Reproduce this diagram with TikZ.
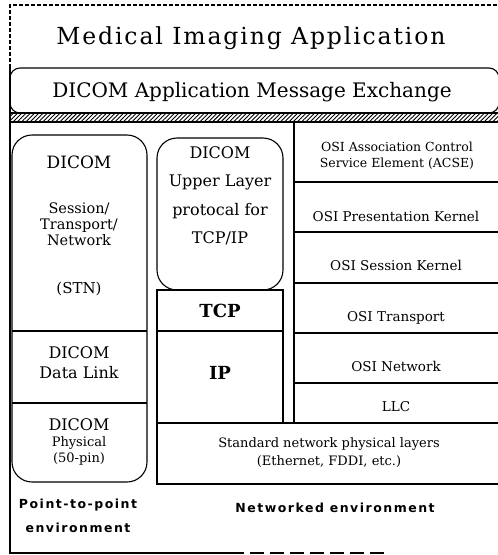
\documentclass[tikz,border=0pt]{standalone}
\usepackage{fontspec}
\setmainfont{DejaVu Serif}
\newfontfamily\labfont{DejaVu Sans}[LetterSpace=12]
\newfontfamily\titlefont{DejaVu Serif}[LetterSpace=8]
\usetikzlibrary{patterns.meta}
\newcommand\fsz[2]{\fontsize{#1}{#2}\selectfont}
\begin{document}
\begin{tikzpicture}[x=1pt,y=-1pt,line width=1.1pt,
  txt/.style={inner sep=0pt,align=center},
  hatch/.style={pattern={Lines[angle=45,distance=3pt,line width=0.9pt]}}]
\useasboundingbox (0,0) rectangle (498,555);
% outer frame
\draw[dash pattern=on 4pt off 2pt] (10,68) -- (10,5) -- (500,5);
\draw (10,68) -- (10,553) -- (230,553);
\draw[dash pattern=on 14pt off 6pt] (230,553) -- (390,553);
% title
\node[txt,font=\titlefont\fsz{23.5}{26}] (title) at (251,38) {Medical Imaging Application};
% message exchange
\draw[rounded corners=10] (10,68) rectangle (499,113);
\node[txt,font=\fsz{20}{24}] (msg) at (252,92) {DICOM Application Message Exchange};
% hatched band
\path[hatch] (10,113) rectangle (498,122);
\draw (10,113) -- (498,113);
\draw (10,122) -- (498,122);
% left column
\draw[rounded corners=20] (12,135) rectangle (147,482);
\draw (12,331) -- (147,331);
\draw (12,403) -- (147,403);
\node[txt,font=\fsz{17}{20}] (stnA) at (79,162) {DICOM};
\node[txt,font=\fsz{14.5}{16}] (stnB) at (79,224) {Session/\\Transport/\\Network};
\node[txt,font=\fsz{15}{18}] (stnC) at (79,289) {(STN)};
\node[txt,font=\fsz{16}{20}] (dlink) at (79,363) {DICOM\\Data Link};
\node[txt,font=\fsz{16}{20}] (physA) at (79,425) {DICOM};
\node[txt,font=\fsz{13}{16}] (physB) at (79,451) {Physical\\(50-pin)};
% middle column
\draw[rounded corners=20] (157,138) rectangle (283,290);
\draw (157,290) rectangle (283,331);
\draw (157,331) rectangle (283,423);
\draw (157,423) rectangle (500,484);
\node[txt,font=\fsz{16}{28.5}] (ulp) at (220,196) {DICOM\\Upper Layer\\protocal for\\TCP/IP};
\node[txt,font=\bfseries\fsz{18}{20}] (tcp) at (220,311) {TCP};
\node[txt,font=\bfseries\fsz{18}{20}] (ip) at (220,373) {IP};
\node[txt,font=\fsz{13}{18}] (std) at (329,453) {Standard network physical layers\\(Ethernet, FDDI, etc.)};
% OSI column
\draw (294,122) -- (294,423);
\foreach \yy in {182,232,283,333,383} \draw (294,\yy) -- (500,\yy);
\node[txt,font=\fsz{12.5}{16}] (acse) at (397,156) {OSI Association Control\\Service Element (ACSE)};
\node[txt,font=\fsz{13.5}{16}] (pres) at (396,216) {OSI Presentation Kernel};
\node[txt,font=\fsz{13.5}{16}] (sess) at (396,265) {OSI Session Kernel};
\node[txt,font=\fsz{13.5}{16}] (trans) at (396,318) {OSI Transport};
\node[txt,font=\fsz{13.5}{16}] (net) at (396,366) {OSI Network};
\node[txt,font=\fsz{13.5}{16}] (llc) at (396,407) {LLC};
% bottom labels
\node[txt,font=\labfont\bfseries\fsz{12.5}{24}] (p2p) at (78,516) {Point-to-point\\environment};
\node[txt,font=\labfont\bfseries\fsz{12.5}{24}] (netenv) at (335,508) {Networked environment};
\end{tikzpicture}
\end{document}
